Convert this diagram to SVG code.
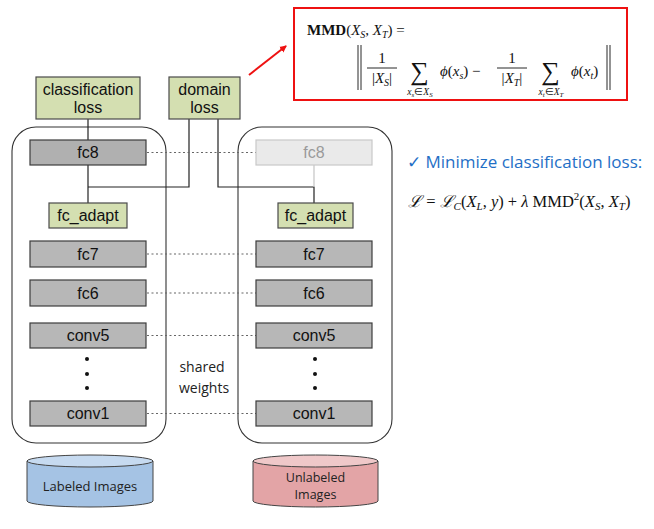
<svg xmlns="http://www.w3.org/2000/svg" width="654" height="529" viewBox="0 0 654 529">
<defs>
<marker id="ah" markerWidth="8" markerHeight="8" refX="6" refY="4" orient="auto" markerUnits="userSpaceOnUse">
<path d="M0,0.5 L7,4 L0,7.5 z" fill="#ee1111"/>
</marker>
</defs>
<style>
.txt{font-family:"Liberation Sans",Arial,sans-serif;font-size:16px;fill:#111;text-anchor:middle}
.cal{font-family:"Open Sans","Liberation Sans",sans-serif;fill:#222;text-anchor:middle}
.green{fill:#d4dfb1;stroke:#4a4a4a;stroke-width:1.2}
.gray{fill:#b7b7b7;stroke:#3c3c3c;stroke-width:1.2}
.light{fill:#eaeaea;stroke:#c8c8c8;stroke-width:1.2}
.cont{fill:none;stroke:#333;stroke-width:1.1}
.ln{fill:none;stroke:#222;stroke-width:1.2}
.dot{fill:none;stroke:#666;stroke-width:1.2;stroke-dasharray:2,2.5}
.m{font-family:"Liberation Serif","Times New Roman",serif;fill:#111}
.mi{font-style:italic}
</style>
<rect width="654" height="529" fill="#fff"/>

<g id="containers">
<rect class="cont" x="12" y="127" width="154" height="316" rx="24"/>
<rect class="cont" x="238" y="127" width="154" height="316" rx="24"/>
</g>

<g id="connectors">
<line class="ln" x1="88" y1="119" x2="88" y2="140"/>
<polyline class="ln" points="88,165 88,203"/>
<polyline class="ln" points="88,187 189,187 189,119"/>
<polyline class="ln" points="218,119 218,187 314,187 314,203"/>
<line x1="314" y1="165" x2="314" y2="187" stroke="#c4c4c4" stroke-width="1.2"/>
<line class="dot" x1="147" y1="152.5" x2="256" y2="152.5"/>
<line class="dot" x1="147" y1="254" x2="256" y2="254"/>
<line class="dot" x1="147" y1="293" x2="256" y2="293"/>
<line class="dot" x1="147" y1="335.5" x2="256" y2="335.5"/>
<line class="dot" x1="147" y1="413.5" x2="256" y2="413.5"/>
<line x1="249" y1="75" x2="286" y2="46" stroke="#ee1111" stroke-width="2" marker-end="url(#ah)"/>
</g>

<g id="classification-loss">
<rect class="green" x="36" y="77" width="104" height="42"/>
<text class="txt" x="88" y="95">classification</text>
<text class="txt" x="88" y="113">loss</text>
</g>
<g id="domain-loss">
<rect class="green" x="169" y="77" width="71" height="42"/>
<text class="txt" x="204.5" y="95">domain</text>
<text class="txt" x="204.5" y="113">loss</text>
</g>

<g id="left-fc8"><rect class="gray" x="30" y="140" width="116" height="25" style="fill:#b0b0b0"/><text class="txt" x="88" y="158">fc8</text></g>
<g id="right-fc8"><rect class="light" x="256" y="140" width="116" height="25"/><text class="txt" x="314" y="158" style="fill:#9a9a9a">fc8</text></g>
<g id="left-fc_adapt"><rect class="green" x="49" y="203" width="78" height="25"/><text class="txt" x="88" y="221">fc_adapt</text></g>
<g id="right-fc_adapt"><rect class="green" x="278" y="203" width="75" height="25"/><text class="txt" x="315.5" y="221">fc_adapt</text></g>

<g id="left-fc7"><rect class="gray" x="30" y="241" width="116" height="26"/><text class="txt" x="88" y="260">fc7</text></g>
<g id="right-fc7"><rect class="gray" x="256" y="241" width="116" height="26"/><text class="txt" x="314" y="260">fc7</text></g>
<g id="left-fc6"><rect class="gray" x="30" y="280" width="116" height="26"/><text class="txt" x="88" y="299">fc6</text></g>
<g id="right-fc6"><rect class="gray" x="256" y="280" width="116" height="26"/><text class="txt" x="314" y="299">fc6</text></g>
<g id="left-conv5"><rect class="gray" x="30" y="323" width="116" height="25"/><text class="txt" x="88" y="341">conv5</text></g>
<g id="right-conv5"><rect class="gray" x="256" y="323" width="116" height="25"/><text class="txt" x="314" y="341">conv5</text></g>
<g id="left-conv1"><rect class="gray" x="30" y="401" width="116" height="25"/><text class="txt" x="88" y="419">conv1</text></g>
<g id="right-conv1"><rect class="gray" x="256" y="401" width="116" height="25"/><text class="txt" x="314" y="419">conv1</text></g>

<g id="dots" fill="#111">
<circle cx="87" cy="359" r="2"/><circle cx="87" cy="374" r="2"/><circle cx="87" cy="388" r="2"/>
<circle cx="315" cy="359" r="2"/><circle cx="315" cy="374" r="2"/><circle cx="315" cy="388" r="2"/>
</g>

<g id="shared-weights">
<text class="cal" x="202" y="372" font-size="14">shared</text>
<text class="cal" x="204" y="393" font-size="14">weights</text>
</g>

<g id="labeled-images">
<path d="M27,461 L27,501 A63,6 0 0 0 153,501 L153,461" fill="#a5c3e4" stroke="#444" stroke-width="1"/>
<ellipse cx="90" cy="461" rx="63" ry="6" fill="#c6daf0" stroke="#444" stroke-width="1"/>
<text class="cal" x="90" y="491" font-size="13">Labeled Images</text>
</g>
<g id="unlabeled-images">
<path d="M253,461 L253,501 A62.5,6 0 0 0 378,501 L378,461" fill="#e3a4a6" stroke="#444" stroke-width="1"/>
<ellipse cx="315.5" cy="461" rx="62.5" ry="6" fill="#efc8c9" stroke="#444" stroke-width="1"/>
<text class="cal" x="315.5" y="482" font-size="12.5">Unlabeled</text>
<text class="cal" x="315.5" y="499" font-size="12.5">Images</text>
</g>

<g id="mmd-formula">
<rect x="294" y="8" width="333" height="92" fill="#fff" stroke="#ee1111" stroke-width="2"/>
<text class="m" x="307" y="35" font-size="15"><tspan font-weight="bold">MMD</tspan>(<tspan class="mi">X</tspan><tspan class="mi" font-size="10" dy="3">S</tspan><tspan dy="-3">, </tspan><tspan class="mi">X</tspan><tspan class="mi" font-size="10" dy="3">T</tspan><tspan dy="-3">) =</tspan></text>
<g stroke="#111" stroke-width="0.9">
<line x1="358" y1="45" x2="358" y2="90"/><line x1="361" y1="45" x2="361" y2="90"/>
<line x1="607" y1="45" x2="607" y2="90"/><line x1="610" y1="45" x2="610" y2="90"/>
<line x1="367" y1="68" x2="397" y2="68"/>
<line x1="497" y1="68" x2="527" y2="68"/>
</g>
<text class="m" x="382" y="63" font-size="15" text-anchor="middle">1</text>
<text class="m" x="382" y="83" font-size="15" text-anchor="middle">|<tspan class="mi">X</tspan><tspan class="mi" font-size="10" dy="3">S</tspan><tspan dy="-3">|</tspan></text>
<text class="m" x="419.5" y="80" font-size="26" text-anchor="middle">∑</text>
<text class="m" x="420" y="95" font-size="9.5" text-anchor="middle"><tspan class="mi">x</tspan><tspan class="mi" font-size="7" dy="2">s</tspan><tspan dy="-2">∈</tspan><tspan class="mi">X</tspan><tspan class="mi" font-size="7" dy="2">S</tspan></text>
<text class="m" x="440" y="76" font-size="15"><tspan class="mi">ϕ</tspan>(<tspan class="mi">x</tspan><tspan class="mi" font-size="10" dy="3">s</tspan><tspan dy="-3">)</tspan> − </text>
<text class="m" x="512" y="63" font-size="15" text-anchor="middle">1</text>
<text class="m" x="512" y="83" font-size="15" text-anchor="middle">|<tspan class="mi">X</tspan><tspan class="mi" font-size="10" dy="3">T</tspan><tspan dy="-3">|</tspan></text>
<text class="m" x="550.5" y="80" font-size="26" text-anchor="middle">∑</text>
<text class="m" x="551" y="95" font-size="9.5" text-anchor="middle"><tspan class="mi">x</tspan><tspan class="mi" font-size="7" dy="2">t</tspan><tspan dy="-2">∈</tspan><tspan class="mi">X</tspan><tspan class="mi" font-size="7" dy="2">T</tspan></text>
<text class="m" x="571" y="76" font-size="15"><tspan class="mi">ϕ</tspan>(<tspan class="mi">x</tspan><tspan class="mi" font-size="10" dy="3">t</tspan><tspan dy="-3">)</tspan></text>
</g>

<g id="objective">
<text x="407" y="168" font-family="'Open Sans','Liberation Sans',sans-serif" font-size="17" fill="#1f6fc6">✓ Minimize classification loss:</text>
<text class="m" x="408" y="207" font-size="16.5"><tspan class="mi">ℒ</tspan> = <tspan class="mi">ℒ</tspan><tspan class="mi" font-size="11" dy="3">C</tspan><tspan dy="-3">(</tspan><tspan class="mi">X</tspan><tspan class="mi" font-size="11" dy="3">L</tspan><tspan dy="-3">, </tspan><tspan class="mi">y</tspan>) + <tspan class="mi">λ</tspan> MMD<tspan font-size="11" dy="-7">2</tspan><tspan dy="7">(</tspan><tspan class="mi">X</tspan><tspan class="mi" font-size="11" dy="3">S</tspan><tspan dy="-3">, </tspan><tspan class="mi">X</tspan><tspan class="mi" font-size="11" dy="3">T</tspan><tspan dy="-3">)</tspan></text>
</g>
</svg>
